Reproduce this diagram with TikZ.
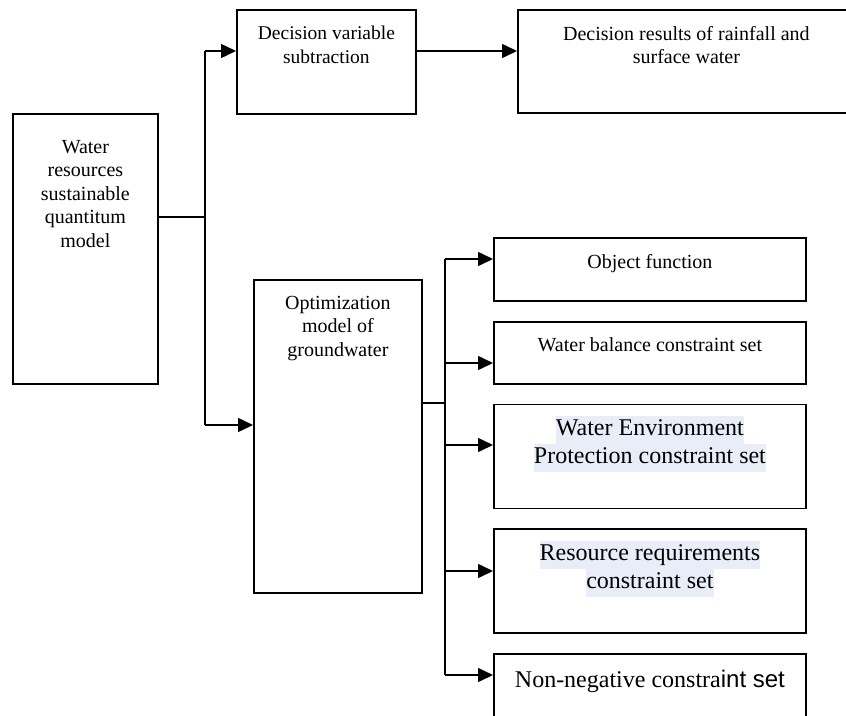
\documentclass[tikz,border=0pt]{standalone}
\usepackage{fontspec}
\setmainfont{Liberation Serif}
\newfontfamily\arialfont{Liberation Sans}
\usetikzlibrary{positioning}
\usetikzlibrary{arrows.meta}

\definecolor{hlblue}{RGB}{233,237,248}
\newcommand{\hlline}[1]{{\setlength{\fboxsep}{0pt}\colorbox{hlblue}{\strut #1}}}
\newcommand{\smalltext}{\fontsize{20}{23.5}\selectfont}
\newcommand{\bigtext}{\fontsize{24}{28}\selectfont}

\begin{document}
\begin{tikzpicture}[x=1pt, y=-1pt,
node distance=19pt,
>={Triangle[length=15pt,width=14pt]},
blocknode/.style={rectangle, draw=black, line width=1.8pt, anchor=north west},
rblocknode/.style={blocknode, minimum width=312pt},
toptext/.style={anchor=north, inner sep=0pt, align=center, font=\smalltext, yshift=-17pt},
bigtoptext/.style={toptext, font=\bigtext},
conn/.style={line width=1.5pt},
]
\useasboundingbox (0,0) rectangle (846,715);
\clip (0,0) rectangle (846,715);

%Nodes
\node[blocknode, minimum width=145pt, minimum height=270pt](model) at (12,113)
  [label={[toptext,yshift=-10pt]north:{Water\\resources\\sustainable\\quantitum\\model}}]{};

\node[blocknode, minimum width=179pt, minimum height=104pt](subtr) at (236,9)
  [label={[toptext,font=\fontsize{19.5}{23.5}\selectfont]north:{Decision variable\\subtraction}}]{};

\node[blocknode, minimum width=337pt, minimum height=103pt](rain) at (517,9)
  [label={[toptext]north:{Decision results of rainfall and\\surface water}}]{};

\node[blocknode, minimum width=168pt, minimum height=313pt](ground) at (253,279)
  [label={[toptext]north:{Optimization\\model of\\groundwater}}]{};

\node[rblocknode, minimum height=63pt](objf) at (493,237)
  [label={[toptext]north:{Object function}}]{};

\node[rblocknode, minimum height=62pt](balance)[below=of objf]
  [label={[toptext]north:{Water balance constraint set}}]{};

\node[rblocknode, minimum height=104pt](environ)[below=of balance]
  [label={[bigtoptext,yshift=4.5pt]north:{\hlline{Water Environment}\\\hlline{Protection constraint set}}}]{};

\node[rblocknode, minimum height=104pt](require)[below=of environ]
  [label={[bigtoptext,yshift=5pt]north:{\hlline{Resource requirements}\\\hlline{constraint set}}}]{};

\node[rblocknode, minimum height=104pt](nonneg)[below=of require]
  [label={[bigtoptext]north:{Non-negative constra{\arialfont int set}}}]{};

%Lines
\coordinate (split) at (205,217);
\coordinate (up) at (205,51);
\coordinate (down) at (205,425);
\coordinate (bus) at (445,403);
\coordinate (b1) at (445,259);
\coordinate (b2) at (445,363);
\coordinate (b3) at (445,445);
\coordinate (b4) at (445,571);
\coordinate (b5) at (445,675);

\draw[conn,-] (model.east |- split) -- (split);
\draw[conn,-] (up) -- (down);
\draw[conn,->] (up) -- (up -| subtr.west);
\draw[conn,->] (down) -- (down -| ground.west);
\draw[conn,->] (subtr.east |- up) -- (up -| rain.west);

\draw[conn,-] (ground.east |- bus) -- (bus);
\draw[conn,-] (b1) -- (b5);
\draw[conn,->] (b1) -- (b1 -| objf.west);
\draw[conn,->] (b2) -- (b2 -| balance.west);
\draw[conn,->] (b3) -- (b3 -| environ.west);
\draw[conn,->] (b4) -- (b4 -| require.west);
\draw[conn,->] (b5) -- (b5 -| nonneg.west);

\end{tikzpicture}
\end{document}
